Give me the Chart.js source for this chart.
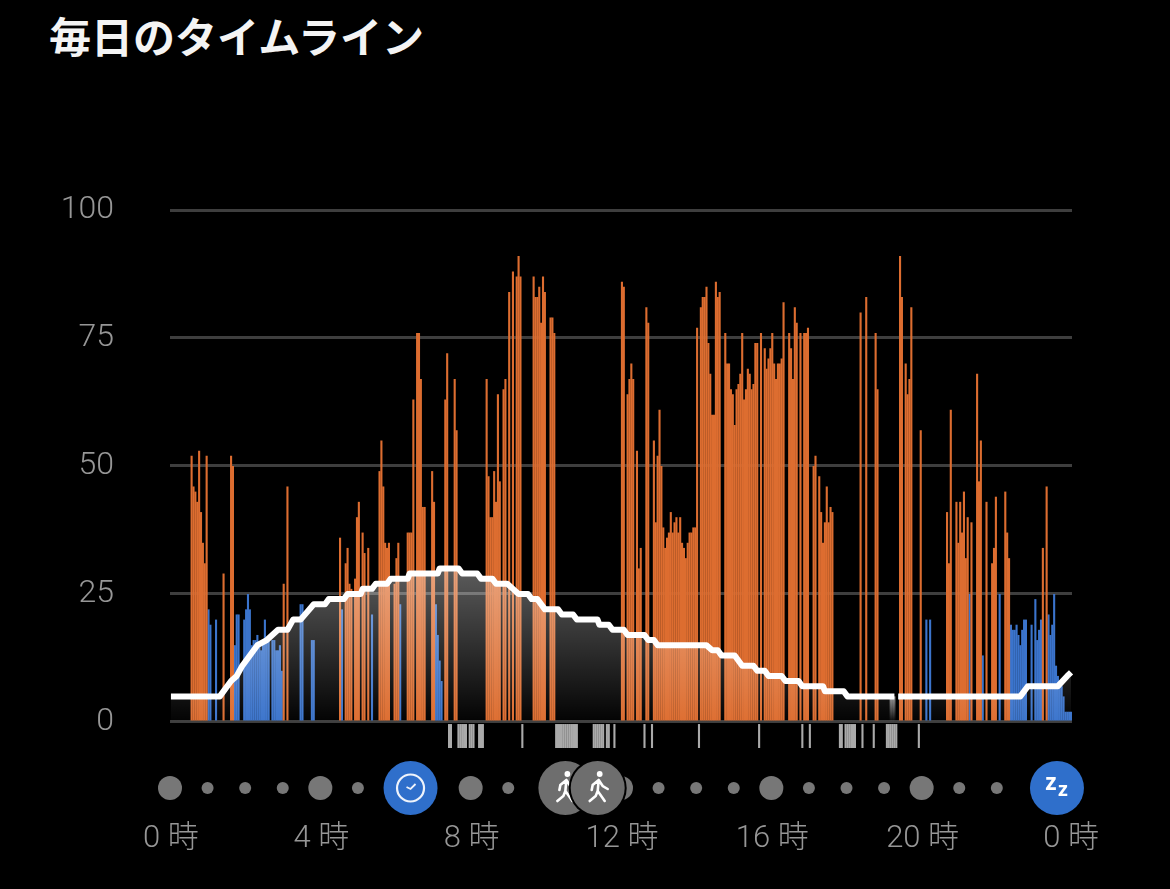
<!DOCTYPE html>
<html>
<head>
<meta charset="utf-8">
<script src="https://cdn.jsdelivr.net/npm/chart.js@4"></script>
<style>
  html, body { margin: 0; padding: 0; background: #000; }
  h1 { position: absolute; left: 49px; top: 4px; margin: 0; color: #f4f4f4;
       font: 700 42px "Noto Sans CJK JP", sans-serif; white-space: nowrap; }
  #box { position: absolute; left: 0; top: 0; width: 1170px; height: 889px; }
</style>
</head>
<body>
<h1>毎日のタイムライン</h1>
<div id="box"><canvas id="timelineChart"></canvas></div>
<script>
// one slot = 3 minutes, 480 slots a day
const slotCount = 480;
const hourLabels = ['0 時', '4 時', '8 時', '12 時', '16 時', '20 時', '0 時'];
const hourLabelSlots = [0, 80, 160, 240, 320, 400, 479];
const yTicks = [0, 25, 50, 75, 100];

const orangeSlots = [
  11, 12, 13, 14, 15, 16, 17, 18, 19, 28, 32, 33, 60, 62, 90,
  93, 94, 95, 96, 98, 99, 100, 102, 103, 105, 111, 112, 113, 114, 115,
  116, 119, 120, 121, 126, 127, 128, 129, 131, 132, 133, 134, 135, 139, 140,
  146, 147, 151, 152, 168, 169, 170, 171, 172, 173, 174, 175, 177, 178, 180,
  182, 184, 185, 186, 193, 194, 195, 196, 197, 198, 199, 202, 203, 204, 240,
  241, 243, 244, 245, 246, 248, 249, 250, 253, 254, 257, 258, 259, 260, 261,
  262, 263, 264, 265, 266, 267, 268, 269, 270, 271, 272, 273, 274, 275, 276,
  277, 278, 279, 280, 282, 283, 284, 285, 286, 287, 288, 289, 290, 291, 292,
  295, 296, 297, 298, 299, 300, 301, 302, 303, 304, 305, 306, 307, 308, 309,
  310, 311, 312, 314, 316, 317, 318, 319, 320, 321, 322, 323, 324, 325, 326,
  329, 330, 331, 332, 333, 335, 337, 338, 339, 342, 343, 345, 346, 347, 348,
  349, 350, 351, 352, 367, 370, 375, 376, 388, 389, 391, 392, 393, 394, 399,
  413, 414, 415, 418, 419, 420, 421, 422, 423, 424, 426, 429, 430, 431, 434,
  437, 438, 439, 444, 445, 446, 464, 466
];
const orangeValues = [
  52, 46, 45, 43, 53, 41, 35, 31, 52, 29, 52, 50, 27, 46, 36,
  31, 34, 27, 26, 28, 40, 43, 37, 33, 34, 49, 55, 46, 35, 34,
  35, 27, 32, 35, 37, 37, 37, 63, 76, 76, 67, 42, 42, 49, 43,
  63, 72, 67, 57, 67, 48, 40, 40, 49, 43, 64, 47, 65, 67, 84,
  88, 87, 91, 87, 87, 83, 83, 85, 78, 87, 84, 79, 79, 76, 86,
  85, 64, 67, 70, 67, 53, 30, 34, 81, 78, 55, 39, 52, 61, 50,
  38, 34, 36, 37, 41, 37, 39, 40, 37, 40, 35, 34, 32, 35, 37,
  37, 38, 38, 77, 81, 83, 83, 85, 74, 68, 60, 60, 86, 83, 84,
  76, 70, 70, 65, 64, 58, 65, 66, 68, 76, 63, 65, 69, 68, 65,
  66, 74, 74, 76, 73, 69, 71, 73, 76, 70, 67, 70, 70, 71, 82,
  76, 73, 67, 81, 78, 76, 76, 76, 77, 50, 52, 48, 41, 35, 39,
  46, 39, 42, 41, 80, 83, 76, 65, 91, 83, 70, 64, 67, 81, 57,
  41, 31, 61, 43, 35, 43, 37, 45, 32, 40, 39, 68, 47, 55, 43,
  31, 34, 44, 45, 37, 32, 34, 46
];

const blueSlots = [
  20, 21, 24, 34, 35, 36, 39, 40, 41, 42, 43, 44, 45, 46, 47,
  48, 49, 50, 51, 52, 54, 55, 56, 57, 58, 59, 69, 70, 75, 76,
  91, 107, 122, 141, 142, 143, 144, 402, 404, 425, 432, 441, 447, 448, 449,
  450, 451, 452, 453, 454, 455, 458, 460, 461, 462, 463, 467, 468, 469, 470,
  471, 472, 473, 474, 475, 476, 477, 478, 479
];
const blueValues = [
  22, 19, 20, 15, 21, 21, 20, 22, 25, 22, 15, 16, 16, 17, 15,
  14, 16, 20, 16, 16, 16, 16, 14, 14, 15, 10, 23, 23, 16, 16,
  22, 21, 23, 23, 17, 12, 8, 20, 20, 25, 13, 25, 19, 18, 18,
  19, 17, 15, 18, 20, 20, 19, 24, 16, 18, 20, 21, 17, 19, 25,
  11, 9, 7, 7, 5, 2, 2, 2, 2
];

// grey ticks under the baseline
const markSlots = [
  148, 149, 153, 154, 155, 156, 157, 159, 160, 161, 164, 165, 166, 187,
  205, 206, 207, 208, 209, 210, 211, 212, 213, 214, 215, 216,
  225, 226, 227, 228, 229, 230, 232, 233, 236, 252, 256, 281, 313, 336, 340,
  356, 357, 359, 360, 361, 362, 363, 364, 368, 374,
  381, 382, 383, 384, 385, 386, 398
];

// white line, breakpoints only
const lineSlots = [
  0, 26, 32, 35, 38, 42, 46, 51, 57, 62, 65, 69, 76, 82, 84,
  92, 94, 101, 102, 107, 109, 115, 117, 126, 127, 142, 143, 153, 155, 163,
  165, 171, 173, 179, 182, 185, 190, 192, 195, 199, 206, 208, 214, 216, 227,
  228, 233, 235, 241, 243, 252, 254, 257, 259, 285, 288, 291, 293, 300, 304,
  310, 312, 316, 318, 325, 327, 334, 336, 347, 348, 358, 360, 385, 386, 387,
  452, 456, 472, 477, 479
];
const lineValues = [
  5, 5, 8, 9, 11, 13, 15, 16, 18, 18, 20, 20, 23, 23, 24,
  24, 25, 25, 26, 26, 27, 27, 28, 28, 29, 29, 30, 30, 29, 29,
  28, 28, 27, 27, 26, 25, 25, 24, 24, 22, 22, 21, 21, 20, 20,
  19, 19, 18, 18, 17, 17, 16, 16, 15, 15, 14, 14, 13, 13, 11,
  11, 10, 10, 9, 9, 8, 8, 7, 7, 6, 6, 5, 5, null, 5,
  5, 7, 7, 9, 9.7
];

// pale patch under the break in the line
const glowSlots = [383, 384, 385];
const glowValue = 5;

// row of dots, in hours
const smallDotHours = [1, 2, 3, 5, 9, 13, 14, 15, 17, 18, 19, 21, 22];
const largeDotHours = [0, 4, 8, 12, 16, 20];
const clockHour = 6.4;
const walkHours = [10.52, 11.38];
const sleepHour = 23.6;

const labels = [];
for (let i = 0; i < slotCount; i++) labels.push(i);

function denseFrom(slots, values) {
  const out = new Array(slotCount).fill(0);
  slots.forEach((s, i) => { out[s] = values[i]; });
  return out;
}

const orangeData = denseFrom(orangeSlots, orangeValues);
const blueData = denseFrom(blueSlots, blueValues);
const glowData = denseFrom(glowSlots, glowSlots.map(() => glowValue));
const markData = new Array(slotCount).fill(null);
markSlots.forEach((s) => { markData[s] = [-5.08, -0.4]; });
const lineData = lineSlots.map((s, i) => ({ x: s, y: lineValues[i] }));

function verticalGradient(context, topValue, topColor, bottomColor) {
  const chart = context.chart;
  if (!chart.chartArea || !chart.scales.y) return 'rgba(0,0,0,0)';
  const y = chart.scales.y;
  const g = chart.ctx.createLinearGradient(0, y.getPixelForValue(topValue), 0, y.getPixelForValue(0));
  g.addColorStop(0, topColor);
  g.addColorStop(1, bottomColor);
  return g;
}

function drawWalker(ctx, cx, cy) {
  ctx.save();
  ctx.strokeStyle = '#fff';
  ctx.fillStyle = '#fff';
  ctx.lineWidth = 2.6;
  ctx.lineCap = 'round';
  ctx.beginPath();
  ctx.arc(cx + 1, cy - 14, 2.9, 0, Math.PI * 2);
  ctx.fill();
  ctx.beginPath();
  ctx.moveTo(cx, cy - 8);
  ctx.lineTo(cx - 1, cy + 3);
  ctx.lineTo(cx + 6, cy + 13);
  ctx.moveTo(cx - 1, cy + 3);
  ctx.lineTo(cx - 3, cy + 8);
  ctx.lineTo(cx - 9, cy + 13);
  ctx.moveTo(cx, cy - 8);
  ctx.lineTo(cx - 6, cy - 3);
  ctx.lineTo(cx - 7, cy + 2);
  ctx.moveTo(cx, cy - 8);
  ctx.lineTo(cx + 4, cy - 2);
  ctx.lineTo(cx + 9, cy + 1);
  ctx.stroke();
  ctx.restore();
}

// dots and activity badges below the plot
const timelineRow = {
  id: 'timelineRow',
  afterDraw(chart) {
    const ctx = chart.ctx;
    const area = chart.chartArea;
    const rowY = 788;
    const hourX = (h) => area.left + (area.right - area.left) * h / 24;
    const disc = (x, r, color) => {
      ctx.fillStyle = color;
      ctx.beginPath();
      ctx.arc(x, rowY, r, 0, Math.PI * 2);
      ctx.fill();
    };
    smallDotHours.forEach((h) => disc(hourX(h), 6, '#777'));
    largeDotHours.forEach((h) => disc(hourX(h), 12, '#777'));

    // clock
    const clockX = hourX(clockHour);
    disc(clockX, 27, '#2f6fcb');
    ctx.strokeStyle = '#eef3fb';
    ctx.lineWidth = 2.2;
    ctx.beginPath();
    ctx.arc(clockX, rowY, 13.5, 0, Math.PI * 2);
    ctx.stroke();
    ctx.lineWidth = 1.8;
    ctx.beginPath();
    ctx.moveTo(clockX - 4, rowY - 1);
    ctx.lineTo(clockX, rowY + 1);
    ctx.lineTo(clockX + 5, rowY - 4);
    ctx.stroke();

    // walks
    walkHours.forEach((h) => {
      const x = hourX(h);
      disc(x, 29, '#000');
      disc(x, 27, '#6e6e6e');
      drawWalker(ctx, x + 1, rowY);
    });

    // sleep
    const sleepX = hourX(sleepHour);
    disc(sleepX, 27, '#2f6fcb');
    ctx.fillStyle = '#fff';
    ctx.textAlign = 'center';
    ctx.textBaseline = 'middle';
    ctx.font = '700 23px "Noto Sans", sans-serif';
    ctx.fillText('z', sleepX - 6, rowY - 5);
    ctx.font = '700 20px "Noto Sans", sans-serif';
    ctx.fillText('z', sleepX + 6, rowY + 2);
  },
};

const barDefaults = {
  type: 'bar',
  grouped: false,
  barPercentage: 1.12,
  categoryPercentage: 1,
  borderWidth: 0,
  order: 2,
};

new Chart(document.getElementById('timelineChart'), {
  data: {
    labels: labels,
    datasets: [
      {
        type: 'line',
        data: lineData,
        borderColor: '#fff',
        borderWidth: 6,
        borderJoinStyle: 'round',
        borderCapStyle: 'butt',
        pointRadius: 0,
        tension: 0,
        spanGaps: false,
        fill: 'origin',
        backgroundColor: (context) => verticalGradient(context, 30, 'rgba(255,255,255,0.36)', 'rgba(255,255,255,0.01)'),
        clip: false,
        order: 1,
      },
      { ...barDefaults, data: orangeData, backgroundColor: '#dd6d30' },
      { ...barDefaults, data: blueData, backgroundColor: '#3b74cc' },
      { ...barDefaults, data: markData, backgroundColor: '#aaaaaa' },
      {
        ...barDefaults,
        data: glowData,
        backgroundColor: (context) => verticalGradient(context, 5, 'rgba(255,255,255,0.55)', 'rgba(255,255,255,0)'),
      },
    ],
  },
  options: {
    responsive: true,
    maintainAspectRatio: false,
    animation: false,
    devicePixelRatio: 1,
    layout: { padding: { left: 0, right: 98, top: 210, bottom: 0 } },
    plugins: {
      legend: { display: false },
      tooltip: { enabled: false },
      title: { display: false },
    },
    scales: {
      x: {
        type: 'category',
        offset: true,
        afterFit: (axis) => { axis.height = 141; },
        grid: { display: false },
        border: { display: false },
        ticks: {
          autoSkip: false,
          maxRotation: 0,
          minRotation: 0,
          padding: 65,
          color: '#969696',
          font: { family: 'Roboto, "Noto Sans CJK JP", sans-serif', size: 31, weight: 300 },
          callback: (value, index) => {
            const at = hourLabelSlots.indexOf(index);
            return at === -1 ? '' : hourLabels[at];
          },
        },
      },
      y: {
        min: -5.08,
        max: 100,
        afterFit: (axis) => { axis.width = 170; },
        afterBuildTicks: (axis) => { axis.ticks = yTicks.map((v) => ({ value: v })); },
        grid: { color: '#3e3e3e', lineWidth: 3, drawTicks: false },
        border: { display: false },
        ticks: {
          padding: 56,
          color: '#969696',
          font: { family: 'Roboto, sans-serif', size: 32, weight: 300 },
        },
      },
    },
  },
  plugins: [timelineRow],
});
</script>
</body>
</html>
